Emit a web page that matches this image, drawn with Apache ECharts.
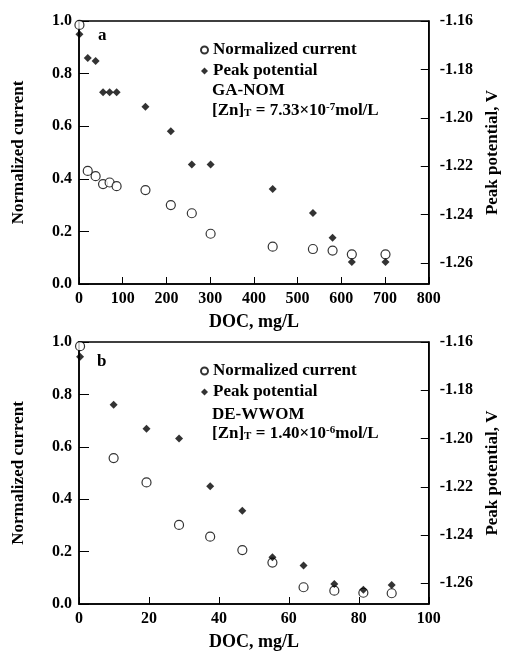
<!DOCTYPE html>
<html>
<head>
<meta charset="utf-8">
<script src="https://cdn.jsdelivr.net/npm/echarts@6/dist/echarts.min.js"></script>
<style>
  html, body { margin: 0; padding: 0; background: #fff; }
  #chart { width: 509px; height: 653px; }
</style>
</head>
<body>
<div id="chart"></div>
<script>
// panel a : GA-NOM
const docA = [1, 20, 38, 55, 70, 86, 152, 210, 258, 301, 443, 535, 580, 624, 701];
const currentA = [0.985, 0.43, 0.41, 0.38, 0.386, 0.372, 0.357, 0.30, 0.269, 0.191, 0.142, 0.133, 0.127, 0.113, 0.113];
const potentialA = [-1.1655, -1.1753, -1.1765, -1.1894, -1.1894, -1.1894, -1.1954, -1.2055, -1.2193, -1.2193, -1.2294, -1.2393, -1.2495, -1.2595, -1.2595];

// panel b : DE-WWOM
const docB = [0.3, 9.9, 19.3, 28.6, 37.5, 46.7, 55.3, 64.2, 73, 81.3, 89.4];
const currentB = [0.984, 0.557, 0.464, 0.302, 0.257, 0.206, 0.158, 0.064, 0.051, 0.043, 0.041];
const potentialB = [-1.1661, -1.186, -1.196, -1.200, -1.2198, -1.2299, -1.2492, -1.2526, -1.2603, -1.2627, -1.2607];

const potentialTicks = [-1.26, -1.24, -1.22, -1.20, -1.18, -1.16];
const seriesNames = ["Normalized current", "Peak potential"];

const FONT = '"Liberation Serif", "DejaVu Serif", serif';

const chart = echarts.init(document.getElementById("chart"), null, { renderer: "canvas" });

function xAxisFor(gridIndex, max, interval) {
    return {
        type: "value", gridIndex: gridIndex, min: 0, max: max, interval: interval,
        name: "DOC, mg/L", nameLocation: "middle", nameGap: 29,
        nameTextStyle: { fontFamily: FONT, fontSize: 18, fontWeight: "bold", color: "#000" },
        axisLine: { lineStyle: { color: "#000", width: 1.5 } },
        axisTick: { inside: true, length: 7, lineStyle: { color: "#000" } },
        axisLabel: { margin: 7, fontFamily: FONT, fontSize: 16, fontWeight: "bold", color: "#000" },
        splitLine: { show: false }
    };
}

function leftAxisFor(gridIndex) {
    return {
        type: "value", gridIndex: gridIndex, min: 0, max: 1, interval: 0.2,
        name: "Normalized current", nameLocation: "middle", nameGap: 52,
        nameTextStyle: { fontFamily: FONT, fontSize: 17, fontWeight: "bold", color: "#000" },
        axisLine: { lineStyle: { color: "#000", width: 1.5 } },
        axisTick: { inside: true, length: 10, lineStyle: { color: "#000" } },
        axisLabel: { margin: 7, fontFamily: FONT, fontSize: 16, fontWeight: "bold", color: "#000",
                     formatter: v => v.toFixed(1) },
        splitLine: { show: false }
    };
}

function rightAxisFor(gridIndex) {
    return {
        type: "value", gridIndex: gridIndex, position: "right", min: -1.2686, max: -1.16,
        name: "Peak potential, V", nameLocation: "middle", nameGap: 54,
        nameTextStyle: { fontFamily: FONT, fontSize: 17, fontWeight: "bold", color: "#000" },
        axisLine: { show: true, lineStyle: { color: "#000", width: 1.5 } },
        axisTick: { inside: true, length: 8, customValues: potentialTicks, lineStyle: { color: "#000" } },
        axisLabel: { margin: 11, fontFamily: FONT, fontSize: 16, fontWeight: "bold", color: "#000",
                     customValues: potentialTicks, formatter: v => v.toFixed(2) },
        splitLine: { show: false }
    };
}

function legendFor(top) {
    return {
        orient: "vertical", left: 195, top: top, itemWidth: 7, itemHeight: 7, itemGap: 3,
        selectedMode: false,
        data: seriesNames,
        textStyle: { fontFamily: FONT, fontSize: 17, fontWeight: "bold", color: "#000",
                     lineHeight: 18 }
    };
}

const rich = {
    b: { fontFamily: FONT, fontSize: 17, fontWeight: "bold", color: "#000" },
    sub: { fontFamily: FONT, fontSize: 11, fontWeight: "bold", color: "#000", verticalAlign: "bottom", lineHeight: 14 },
    sup: { fontFamily: FONT, fontSize: 11, fontWeight: "bold", color: "#000", verticalAlign: "top", lineHeight: 14 }
};

function textAt(left, top, text) {
    return { type: "text", left: left, top: top,
             style: { text: text, rich: rich, fontFamily: FONT, fontSize: 17, fontWeight: "bold", fill: "#000" } };
}

const option = {
    backgroundColor: "#fff",
    animation: false,
    grid: [
        { left: 79, top: 21, right: 79, height: 263, show: true, borderColor: "#000", borderWidth: 1.5 },
        { left: 79, top: 342, right: 80, height: 262, show: true, borderColor: "#000", borderWidth: 1.5 }
    ],
    legend: [legendFor(36), legendFor(357)],
    xAxis: [xAxisFor(0, 800, 100), xAxisFor(1, 100, 20)],
    yAxis: [leftAxisFor(0), rightAxisFor(0), leftAxisFor(1), rightAxisFor(1)],
    graphic: [
        textAt(98, 27, "{b|a}"),
        textAt(212, 82, "{b|GA-NOM}"),
        textAt(212, 102, "{b|[Zn]}{sub|T}{b| = 7.33×10}{sup|-7}{b|mol/L}"),
        textAt(97, 353, "{b|b}"),
        textAt(212, 406, "{b|DE-WWOM}"),
        textAt(212, 425, "{b|[Zn]}{sub|T}{b| = 1.40×10}{sup|-6}{b|mol/L}")
    ],
    series: [
        {
            name: seriesNames[0], type: "scatter", xAxisIndex: 0, yAxisIndex: 0, clip: false,
            symbol: "circle", symbolSize: 9,
            itemStyle: { color: "#fff", borderColor: "#000", borderWidth: 1.2 },
            data: docA.map((d, i) => [d, currentA[i]])
        },
        {
            name: seriesNames[1], type: "scatter", xAxisIndex: 0, yAxisIndex: 1, clip: false,
            symbol: "diamond", symbolSize: 8,
            itemStyle: { color: "#000" },
            data: docA.map((d, i) => [d, potentialA[i]])
        },
        {
            name: seriesNames[0], type: "scatter", xAxisIndex: 1, yAxisIndex: 2, clip: false,
            symbol: "circle", symbolSize: 9,
            itemStyle: { color: "#fff", borderColor: "#000", borderWidth: 1.2 },
            data: docB.map((d, i) => [d, currentB[i]])
        },
        {
            name: seriesNames[1], type: "scatter", xAxisIndex: 1, yAxisIndex: 3, clip: false,
            symbol: "diamond", symbolSize: 8,
            itemStyle: { color: "#000" },
            data: docB.map((d, i) => [d, potentialB[i]])
        }
    ]
};

chart.setOption(option);
</script>
</body>
</html>
